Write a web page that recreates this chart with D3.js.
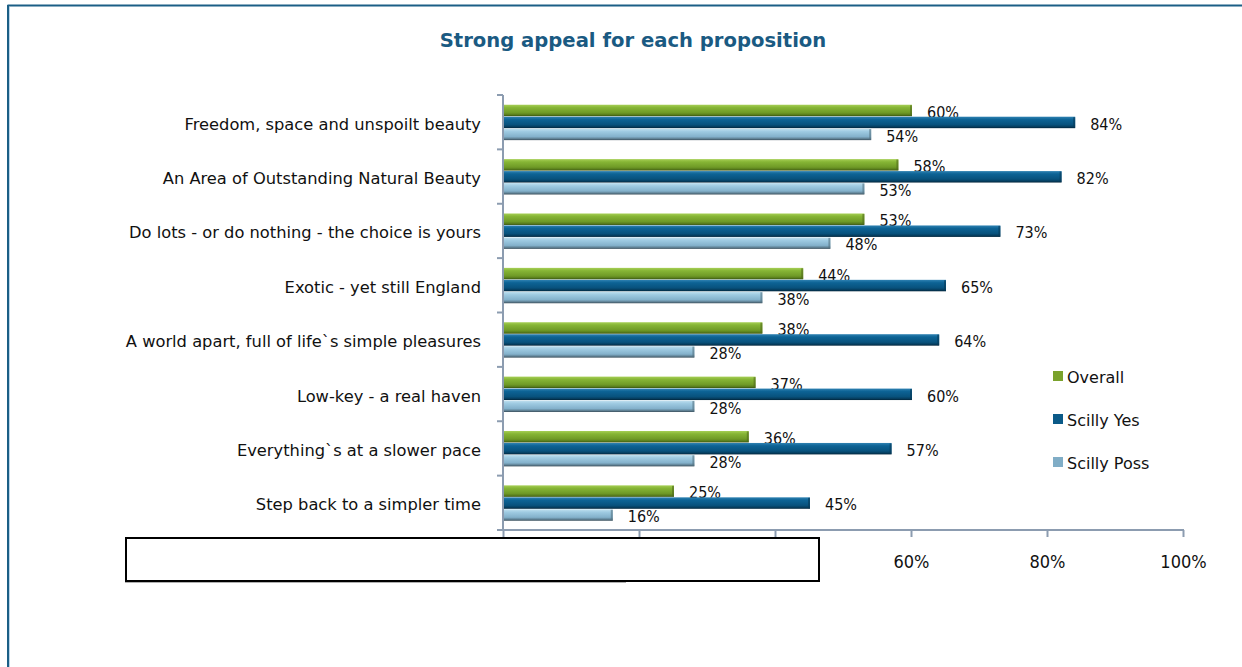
<!DOCTYPE html>
<html>
<head>
<meta charset="utf-8">
<script src="https://cdn.jsdelivr.net/npm/d3@7/dist/d3.min.js"></script>
<style>
  html, body { margin: 0; padding: 0; background: #fff; }
  svg { display: block; }
  text { font-family: "DejaVu Sans Condensed", "DejaVu Sans", sans-serif; fill: #111; }
</style>
</head>
<body>
<svg id="chart" width="1242" height="667"></svg>
<script>
// Propositions, top to bottom
const categories = [
  "Freedom, space and unspoilt beauty",
  "An Area of Outstanding Natural Beauty",
  "Do lots - or do nothing - the choice is yours",
  "Exotic - yet still England",
  "A world apart, full of life`s simple pleasures",
  "Low-key - a real haven",
  "Everything`s at a slower pace",
  "Step back to a simpler time"
];
const seriesNames = ["Overall", "Scilly Yes", "Scilly Poss"];
const overall    = [60, 58, 53, 44, 38, 37, 36, 25];
const scillyYes  = [84, 82, 73, 65, 64, 60, 57, 45];
const scillyPoss = [54, 53, 48, 38, 28, 28, 28, 16];
const tickValues = [0, 20, 40, 60, 80, 100];

const seriesValues = [overall, scillyYes, scillyPoss];
const seriesColors = ["#7aa22c", "#0b5a88", "#80adc6"];

const svg = d3.select("#chart");

// Gradients giving the bars their rounded, shaded look
const defs = svg.append("defs");
const gradStops = [
  [["0", "#a6cf55"], ["0.25", "#86b535"], ["0.7", "#6f9a27"], ["0.88", "#587c1c"], ["1", "#34500e"]],
  [["0", "#2f82b2"], ["0.25", "#0d6395"], ["0.7", "#08527d"], ["0.88", "#053d5e"], ["1", "#02243a"]],
  [["0", "#c0e0ef"], ["0.25", "#9fcbe2"], ["0.7", "#83b1cb"], ["0.88", "#5e7f92"], ["1", "#3a4e5a"]]
];
gradStops.forEach((stops, i) => {
  const g = defs.append("linearGradient")
    .attr("id", "grad" + i)
    .attr("x1", 0).attr("y1", 0).attr("x2", 0).attr("y2", 1);
  stops.forEach(s => g.append("stop").attr("offset", s[0]).attr("stop-color", s[1]));
});

// Frame
svg.append("line").attr("x1", 7.5).attr("x2", 1242).attr("y1", 5.5).attr("y2", 5.5)
  .attr("stroke", "#1b5f86").attr("stroke-width", 2);
svg.append("line").attr("x1", 8).attr("x2", 8).attr("y1", 5).attr("y2", 667)
  .attr("stroke", "#1b5f86").attr("stroke-width", 2);
svg.append("line").attr("x1", 9.5).attr("x2", 9.5).attr("y1", 7).attr("y2", 667)
  .attr("stroke", "#bcd6ea").attr("stroke-width", 1);

// Title
svg.append("text")
  .attr("x", 633).attr("y", 47)
  .attr("text-anchor", "middle")
  .style("font-family", "'DejaVu Sans', sans-serif")
  .style("font-weight", "bold")
  .style("font-size", "19.6px")
  .style("fill", "#1a5a82")
  .text("Strong appeal for each proposition");

// Scales
const x = d3.scaleLinear().domain([0, 100]).range([503, 1183]);
const y = d3.scaleBand().domain(categories).range([95, 530])
  .paddingInner(0.34).paddingOuter(0.17);
const ySub = d3.scaleBand().domain(d3.range(seriesNames.length)).range([0, y.bandwidth()]);

const axisColor = "#8c9cb0";

// Bars
const groups = svg.append("g").selectAll("g")
  .data(categories)
  .join("g")
  .attr("transform", d => `translate(0,${y(d)})`);

groups.each(function(cat, ci) {
  const g = d3.select(this);
  seriesValues.forEach((vals, si) => {
    const v = vals[ci];
    const y0 = ySub(si);
    const h = ySub.bandwidth();
    g.append("rect")
      .attr("x", x(0) + 1)
      .attr("y", y0 + 0.5)
      .attr("width", x(v) - x(0))
      .attr("height", h - 0.5)
      .attr("fill", `url(#grad${si})`);
    // darker end cap
    g.append("rect")
      .attr("x", x(v) - 1)
      .attr("y", y0 + 1)
      .attr("width", 2)
      .attr("height", h - 1.5)
      .attr("fill", d3.color(seriesColors[si]).darker(1.2))
      .attr("opacity", 0.6);
    g.append("text")
      .attr("x", x(v) + 16)
      .attr("y", y0 + h / 2 + 2)
      .attr("dominant-baseline", "central")
      .style("font-size", "16px")
      .text(v + "%");
  });
});

// Vertical axis with ticks at category boundaries
svg.append("line")
  .attr("x1", x(0)).attr("x2", x(0))
  .attr("y1", 95).attr("y2", 531)
  .attr("stroke", axisColor).attr("stroke-width", 2);
const boundaries = categories.map(c => y(c) - y.step() * y.paddingInner() / 2);
svg.append("g").selectAll("line")
  .data(boundaries)
  .join("line")
  .attr("x1", x(0) - 6).attr("x2", x(0))
  .attr("y1", d => d).attr("y2", d => d)
  .attr("stroke", axisColor).attr("stroke-width", 2);

// Category labels
svg.append("g").selectAll("text")
  .data(categories)
  .join("text")
  .attr("x", 481)
  .attr("y", d => y(d) + y.bandwidth() / 2 + 2)
  .attr("text-anchor", "end")
  .attr("dominant-baseline", "central")
  .style("font-family", "'DejaVu Sans', sans-serif")
  .style("font-size", "16.3px")
  .text(d => d);

// Horizontal axis
const xAxis = d3.axisBottom(x)
  .tickValues(tickValues)
  .tickSize(7)
  .tickSizeOuter(0)
  .tickPadding(18)
  .tickFormat(d => d + "%");
const gx = svg.append("g")
  .attr("transform", "translate(0,530)")
  .call(xAxis);
gx.select(".domain").attr("stroke", axisColor).attr("stroke-width", 2)
  .attr("d", `M${x(0) - 6},0H${x(100) + 1}`);
gx.selectAll(".tick line").attr("stroke", axisColor).attr("stroke-width", 2);
gx.selectAll(".tick text")
  .style("font-family", "'DejaVu Sans Condensed', 'DejaVu Sans', sans-serif")
  .style("font-size", "18px")
  .attr("fill", "#111");

// Blank box laid over the left part of the axis labels
svg.append("line")
  .attr("x1", 125).attr("x2", 626).attr("y1", 582.5).attr("y2", 582.5)
  .attr("stroke", "#b0b0b0").attr("stroke-width", 1);
svg.append("rect")
  .attr("x", 126).attr("y", 538)
  .attr("width", 693).attr("height", 43)
  .attr("fill", "#fff")
  .attr("stroke", "#000").attr("stroke-width", 2);

// Legend
const legend = svg.append("g").selectAll("g")
  .data(seriesNames)
  .join("g")
  .attr("transform", (d, i) => `translate(1053,${376 + i * 43})`);
legend.append("rect")
  .attr("x", 0).attr("y", -5)
  .attr("width", 10).attr("height", 10)
  .attr("fill", (d, i) => seriesColors[i]);
legend.append("text")
  .attr("x", 14).attr("y", 1)
  .attr("dominant-baseline", "central")
  .style("font-family", "'DejaVu Sans', sans-serif")
  .style("font-size", "16px")
  .text(d => d);
</script>
</body>
</html>
